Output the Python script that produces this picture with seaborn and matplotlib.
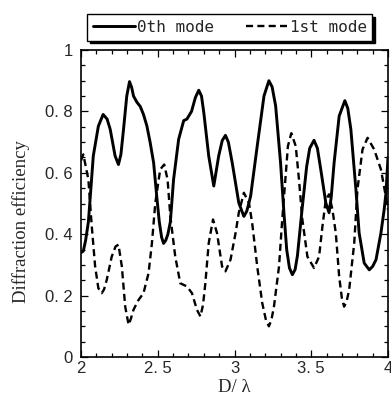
import numpy as np
import pandas as pd
import matplotlib
matplotlib.use("Agg")
import matplotlib.pyplot as plt
import seaborn as sns
from matplotlib.ticker import MultipleLocator

# values
d_0th = [2.000, 2.015, 2.030, 2.048, 2.060, 2.080, 2.113, 2.144, 2.170, 2.190,
         2.222, 2.244, 2.260, 2.277, 2.298, 2.316, 2.330, 2.342, 2.364, 2.386,
         2.407, 2.429, 2.450, 2.473, 2.494, 2.510, 2.525, 2.538, 2.552, 2.566,
         2.582, 2.603, 2.636, 2.669, 2.690, 2.720, 2.745, 2.767, 2.785, 2.800,
         2.832, 2.865, 2.897, 2.920, 2.941, 2.960, 2.985, 3.028, 3.061, 3.080,
         3.105, 3.148, 3.192, 3.224, 3.245, 3.268, 3.300, 3.322, 3.340, 3.358,
         3.377, 3.395, 3.410, 3.440, 3.470, 3.490, 3.518, 3.540, 3.562, 3.595,
         3.616, 3.630, 3.649, 3.682, 3.719, 3.738, 3.758, 3.791, 3.812, 3.845,
         3.878, 3.900, 3.922, 3.954, 3.975, 3.987, 4.000]
eff_0th = [0.340, 0.345, 0.380, 0.440, 0.520, 0.655, 0.752, 0.790, 0.775, 0.742,
           0.655, 0.627, 0.660, 0.742, 0.850, 0.897, 0.878, 0.850, 0.830, 0.816,
           0.790, 0.753, 0.700, 0.633, 0.520, 0.440, 0.390, 0.370, 0.380, 0.400,
           0.440, 0.578, 0.709, 0.770, 0.775, 0.800, 0.845, 0.869, 0.850, 0.796,
           0.655, 0.557, 0.655, 0.705, 0.722, 0.700, 0.633, 0.502, 0.458, 0.475,
           0.524, 0.687, 0.850, 0.900, 0.880, 0.818, 0.633, 0.470, 0.350, 0.290,
           0.268, 0.285, 0.330, 0.480, 0.620, 0.680, 0.706, 0.680, 0.611, 0.502,
           0.470, 0.520, 0.633, 0.785, 0.835, 0.810, 0.742, 0.546, 0.404, 0.306,
           0.284, 0.295, 0.317, 0.404, 0.480, 0.535, 0.650]

d_1st = [2.000, 2.015, 2.048, 2.070, 2.092, 2.113, 2.135, 2.150, 2.168, 2.200,
         2.225, 2.244, 2.266, 2.288, 2.310, 2.325, 2.342, 2.375, 2.407, 2.440,
         2.462, 2.484, 2.516, 2.542, 2.564, 2.582, 2.614, 2.647, 2.690, 2.723,
         2.755, 2.778, 2.795, 2.810, 2.832, 2.860, 2.886, 2.919, 2.941, 2.974,
         3.007, 3.028, 3.061, 3.094, 3.115, 3.148, 3.181, 3.205, 3.224, 3.240,
         3.257, 3.290, 3.311, 3.333, 3.348, 3.370, 3.399, 3.420, 3.442, 3.475,
         3.518, 3.551, 3.573, 3.595, 3.616, 3.638, 3.660, 3.682, 3.700, 3.714,
         3.730, 3.747, 3.780, 3.801, 3.834, 3.867, 3.910, 3.954, 3.987, 4.000]
eff_1st = [0.640, 0.660, 0.578, 0.426, 0.295, 0.224, 0.208, 0.220, 0.252, 0.327,
           0.360, 0.366, 0.295, 0.164, 0.105, 0.125, 0.154, 0.186, 0.208, 0.273,
           0.371, 0.502, 0.611, 0.627, 0.578, 0.458, 0.327, 0.240, 0.230, 0.208,
           0.154, 0.132, 0.170, 0.240, 0.371, 0.448, 0.404, 0.295, 0.279, 0.317,
           0.404, 0.470, 0.535, 0.502, 0.437, 0.295, 0.175, 0.120, 0.100, 0.120,
           0.164, 0.295, 0.448, 0.589, 0.687, 0.729, 0.687, 0.578, 0.448, 0.327,
           0.290, 0.327, 0.426, 0.513, 0.530, 0.480, 0.404, 0.262, 0.190, 0.164,
           0.180, 0.219, 0.371, 0.546, 0.676, 0.714, 0.676, 0.611, 0.520, 0.480]

mode_names = ["0th mode", "1st mode"]
x_ticks = [2, 2.5, 3, 3.5, 4]
x_ticklabels = ["2", "2. 5", "3", "3. 5", "4"]
y_ticks = [0, 0.2, 0.4, 0.6, 0.8, 1]
y_ticklabels = ["0", "0. 2", "0. 4", "0. 6", "0. 8", "1"]

df_0th = pd.DataFrame({"D": d_0th, "eff": eff_0th})
df_1st = pd.DataFrame({"D": d_1st, "eff": eff_1st})

sns.set_style("ticks")
plt.rcParams["font.family"] = ["Liberation Sans", "DejaVu Sans"]

fig = plt.figure(figsize=(3.91, 4.16), dpi=100)
ax = fig.add_axes([0.2072, 0.1418, 0.7851, 0.738])

# plotting data
sns.lineplot(data=df_0th, x="D", y="eff", ax=ax, color="black", lw=2.1,
             label=mode_names[0], legend=False)
sns.lineplot(data=df_1st, x="D", y="eff", ax=ax, color="black", lw=1.7,
             dashes=False, label=mode_names[1], legend=False)
ax.get_lines()[1].set_dashes((3, 1.8))

# axes formatting
ax.set_xlim(2, 4)
ax.set_ylim(0, 1)
ax.set_xticks(x_ticks)
ax.set_xticklabels(x_ticklabels, fontsize=12)
ax.set_yticks(y_ticks)
ax.set_yticklabels(y_ticklabels, fontsize=12)
ax.xaxis.set_minor_locator(MultipleLocator(0.1))
ax.yaxis.set_minor_locator(MultipleLocator(0.05))
ax.tick_params(which="both", direction="in", top=True, right=True,
               width=0.9, color="black")
ax.tick_params(which="major", length=5)
ax.tick_params(which="minor", length=3)
ax.tick_params(axis="x", which="major", pad=3)
ax.tick_params(axis="y", which="major", pad=6)
for sp in ax.spines.values():
    sp.set_linewidth(1.2)
    sp.set_color("black")

ax.set_xlabel("D/ λ", fontsize=13.5, family="Liberation Serif")
ax.set_ylabel("Diffraction efficiency", fontsize=13.5, family="Liberation Serif")
ax.xaxis.set_label_coords(0.5, -0.072)
ax.yaxis.set_label_coords(-0.165, 0.44)

# legend above the axes
handles = ax.get_lines()[:2]
leg = fig.legend(handles, mode_names, loc="center", bbox_to_anchor=(0.588, 0.934),
                 ncol=2, frameon=True, fancybox=False,
                 shadow={"color": "black", "alpha": 1},
                 prop={"family": "DejaVu Sans Mono", "size": 11.5},
                 handlelength=2.6, handletextpad=0.15, columnspacing=2.0,
                 borderpad=0.35, borderaxespad=0)
leg.get_frame().set_edgecolor("black")
leg.get_frame().set_linewidth(1.0)

fig.savefig("out.png", dpi=100)
